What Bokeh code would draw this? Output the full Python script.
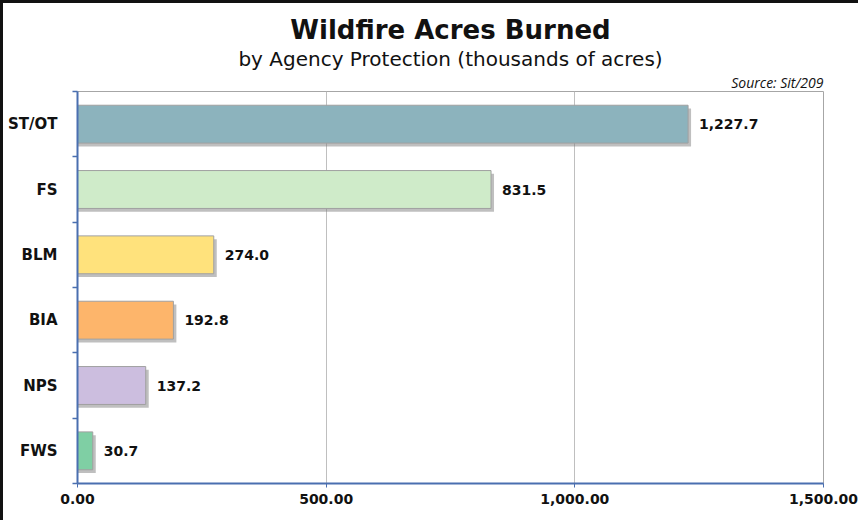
from bokeh.plotting import figure
from bokeh.models import (ColumnDataSource, Range1d, NumeralTickFormatter, LabelSet,
                          Title, FixedTicker)
from bokeh.transform import dodge
from bokeh.core.properties import value
from bokeh.embed import file_html
from bokeh.resources import INLINE

# ---- data ----
agencies = ["ST/OT", "FS", "BLM", "BIA", "NPS", "FWS"]
acres_thousands = [1227.7, 831.5, 274.0, 192.8, 137.2, 30.7]
bar_colors = ["#8CB3BD", "#CFEBC9", "#FFE27C", "#FDB56B", "#CCBEDF", "#7FCFA4"]
value_labels = ["1,227.7", "831.5", "274.0", "192.8", "137.2", "30.7"]
x_ticks = [0, 500, 1000, 1500]
title_text = "Wildfire Acres Burned"
subtitle_text = "by Agency Protection (thousands of acres)"
source_text = "Source: Sit/209"

FONT = "DejaVu Sans"
AXIS_BLUE = "#4A6FB0"

n = len(agencies)
# category slots: first agency at the top
slot = [n - i - 0.5 for i in range(n)]
src = ColumnDataSource(dict(pos=slot, cat=agencies, val=acres_thousands,
                            color=bar_colors, lab=value_labels))

p = figure(width=858, height=520, output_backend="svg", toolbar_location=None,
           y_range=Range1d(0, n), x_range=Range1d(0, 1500), title=None,
           min_border_left=74, min_border_right=38, min_border_top=88, min_border_bottom=40)
p.styles = {"border-top": "3px solid #111111", "border-left": "3px solid #111111"}

# shadow
p.hbar(y=dodge("pos", -0.05), left=0, right=dodge("val", 6), height=0.58,
       source=src, fill_color="#808080", fill_alpha=0.5, line_color=None)
# bars
p.hbar(y="pos", left=0, right="val", height=0.58, source=src,
       fill_color="color", line_color="#A0A0A0", line_width=1)

labels = LabelSet(x="val", y="pos", text="lab", source=src, x_offset=11,
                  text_baseline="middle", text_font=value(FONT), text_font_style="bold",
                  text_font_size="14px", text_color="#111111")
p.add_layout(labels)

# titles: first added sits closest to the frame
p.add_layout(Title(text=source_text, align="right", text_font="Open Sans",
                   text_font_style="italic", text_font_size="14px",
                   text_color="#111111", standoff=0), "above")
p.add_layout(Title(text=subtitle_text, align="center", offset=-12, text_font=FONT,
                   text_font_style="normal", text_font_size="20px",
                   text_color="#111111", standoff=0), "above")
p.add_layout(Title(text=title_text, align="center", offset=-12, text_font=FONT,
                   text_font_style="bold", text_font_size="26px",
                   text_color="#111111", standoff=0), "above")

# x axis
p.xaxis.ticker = FixedTicker(ticks=x_ticks)
p.xaxis.formatter = NumeralTickFormatter(format="0,0.00")
xa = p.xaxis[0]
xa.axis_line_color = AXIS_BLUE
xa.axis_line_width = 2
xa.major_tick_line_color = AXIS_BLUE
xa.major_tick_out = 4
xa.major_tick_in = 0
xa.minor_tick_line_color = None
xa.major_label_standoff = 6
xa.major_label_text_font = FONT
xa.major_label_text_font_style = "bold"
xa.major_label_text_font_size = "14px"
xa.major_label_text_color = "#111111"

# y axis: category labels at centres, ticks at category boundaries
bounds = [i for i in range(n + 1)]
ya = p.yaxis[0]
ya.ticker = FixedTicker(ticks=slot, minor_ticks=bounds)
ya.major_label_overrides = {s: c for s, c in zip(slot, agencies)}
ya.axis_line_color = AXIS_BLUE
ya.axis_line_width = 2
ya.major_tick_line_color = None
ya.minor_tick_line_color = AXIS_BLUE
ya.minor_tick_line_width = 1.5
ya.minor_tick_out = 5
ya.minor_tick_in = 0
ya.major_label_standoff = 14
ya.major_label_text_font = FONT
ya.major_label_text_font_style = "bold"
ya.major_label_text_font_size = "15px"
ya.major_label_text_color = "#111111"

p.xgrid.grid_line_color = "#BFBFBF"
p.ygrid.grid_line_color = None
p.outline_line_color = "#A6A6A6"
p.outline_line_width = 1
p.background_fill_color = "white"
p.border_fill_color = "white"

open("out.html", "w").write(file_html(p, INLINE))
